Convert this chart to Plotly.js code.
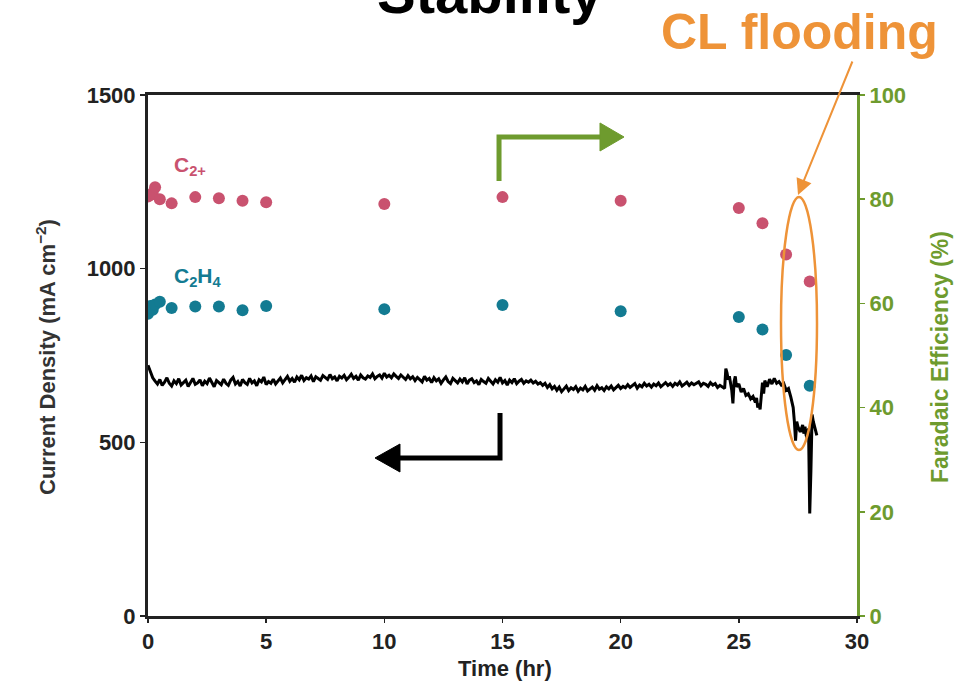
<!DOCTYPE html>
<html>
<head>
<meta charset="utf-8">
<script src="https://cdn.plot.ly/plotly-3.0.1.min.js"></script>
<style>html,body{margin:0;padding:0;background:#fff;}#chart{width:974px;height:683px;}</style>
</head>
<body>
<div id="chart"></div>
<script>
// ---- data ----
const fePointsTime = [0, 0.1, 0.2, 0.3, 0.5, 1, 2, 3, 4, 5, 10, 15, 20, 25, 26, 27, 28];
const feC2plus = [80.5, 80.8, 81.2, 82.3, 80.0, 79.2, 80.4, 80.2, 79.7, 79.4, 79.1, 80.4, 79.7, 78.3, 75.4, 69.4, 64.2];
const feC2H4 = [58.0, 59.5, 58.8, 59.8, 60.3, 59.1, 59.4, 59.4, 58.7, 59.5, 58.9, 59.7, 58.5, 57.4, 55.0, 50.1, 44.2];

const cdTime = [0, 0.05, 0.1, 0.2,
 0.3, 0.4, 0.5, 0.6, 0.7, 0.8, 0.9, 1.0, 1.1, 1.2,
 1.3, 1.4, 1.5, 1.6, 1.7, 1.8, 1.9, 2.0, 2.1, 2.2,
 2.3, 2.4, 2.5, 2.6, 2.7, 2.8, 2.9, 3.0, 3.1, 3.2,
 3.3, 3.4, 3.5, 3.6, 3.7, 3.8, 3.9, 4.0, 4.1, 4.2,
 4.3, 4.4, 4.5, 4.6, 4.7, 4.8, 4.9, 5.0, 5.1, 5.2,
 5.3, 5.4, 5.5, 5.6, 5.7, 5.8, 5.9, 6.0, 6.1, 6.2,
 6.3, 6.4, 6.5, 6.6, 6.7, 6.8, 6.9, 7.0, 7.1, 7.2,
 7.3, 7.4, 7.5, 7.6, 7.7, 7.8, 7.9, 8.0, 8.1, 8.2,
 8.3, 8.4, 8.5, 8.6, 8.7, 8.8, 8.9, 9.0, 9.1, 9.2,
 9.3, 9.4, 9.5, 9.6, 9.7, 9.8, 9.9, 10.0, 10.1, 10.2,
 10.3, 10.4, 10.5, 10.6, 10.7, 10.8, 10.9, 11.0, 11.1, 11.2,
 11.3, 11.4, 11.5, 11.6, 11.7, 11.8, 11.9, 12.0, 12.1, 12.2,
 12.3, 12.4, 12.5, 12.6, 12.7, 12.8, 12.9, 13.0, 13.1, 13.2,
 13.3, 13.4, 13.5, 13.6, 13.7, 13.8, 13.9, 14.0, 14.1, 14.2,
 14.3, 14.4, 14.5, 14.6, 14.7, 14.8, 14.9, 15.0, 15.1, 15.2,
 15.3, 15.4, 15.5, 15.6, 15.7, 15.8, 15.9, 16.0, 16.1, 16.2,
 16.3, 16.4, 16.5, 16.6, 16.7, 16.8, 16.9, 17.0, 17.1, 17.2,
 17.3, 17.4, 17.5, 17.6, 17.7, 17.8, 17.9, 18.0, 18.1, 18.2,
 18.3, 18.4, 18.5, 18.6, 18.7, 18.8, 18.9, 19.0, 19.1, 19.2,
 19.3, 19.4, 19.5, 19.6, 19.7, 19.8, 19.9, 20.0, 20.1, 20.2,
 20.3, 20.4, 20.5, 20.6, 20.7, 20.8, 20.9, 21.0, 21.1, 21.2,
 21.3, 21.4, 21.5, 21.6, 21.7, 21.8, 21.9, 22.0, 22.1, 22.2,
 22.3, 22.4, 22.5, 22.6, 22.7, 22.8, 22.9, 23.0, 23.1, 23.2,
 23.3, 23.4, 23.5, 23.6, 23.7, 23.8, 23.9, 24.0, 24.1, 24.2,
 24.3, 24.4, 24.45, 24.5, 24.55, 24.6, 24.7, 24.75, 24.8, 24.85, 24.9,
 25.0, 25.1, 25.2, 25.3, 25.4, 25.5, 25.6, 25.7, 25.75, 25.8, 25.85, 25.9, 25.95,
 26.0, 26.05, 26.1, 26.2, 26.3, 26.4, 26.5, 26.6, 26.7, 26.8, 26.9,
 27.0, 27.1, 27.2, 27.3, 27.35, 27.4, 27.45, 27.5, 27.6, 27.7, 27.75, 27.8, 27.85, 27.9, 27.95,
 28.0, 28.05, 28.1, 28.15, 28.2, 28.25, 28.3];
const cdValues = [722, 712, 700, 686,
 676, 668, 681, 664, 673, 686, 670, 662, 677, 669,
 683, 665, 672, 679, 661, 674, 684, 667, 671, 680,
 663, 676, 669, 685, 671, 660, 678, 673, 666, 682,
 670, 664, 679, 687, 668, 675, 662, 681, 672, 667,
 684, 671, 677, 663, 680, 674, 688, 666, 675, 670,
 682, 668, 677, 685, 671, 679, 690, 676, 684, 673,
 688, 680, 693, 678, 686, 682, 691, 675, 689, 684,
 679, 692, 686, 681, 695, 683, 688, 677, 690, 685,
 693, 680, 687, 696, 684, 690, 679, 694, 686, 682,
 691, 687, 697, 683, 690, 694, 685, 699, 688, 693,
 686, 697, 690, 684, 694, 688, 681, 692, 683, 689,
 678, 687, 681, 674, 690, 679, 684, 672, 686, 677,
 683, 670, 680, 688, 675, 669, 684, 677, 671, 682,
 674, 686, 668, 679, 683, 672, 677, 666, 681, 675,
 670, 684, 676, 668, 680, 673, 687, 671, 678, 665,
 679, 672, 683, 669, 676, 681, 670, 677, 673, 679,
 671, 676, 668, 672, 664, 670, 658, 666, 654, 661,
 650, 659, 646, 655, 662, 649, 657, 652, 660, 647,
 656, 651, 661, 648, 655, 659, 650, 663, 653, 657,
 649, 660, 654, 662, 651, 658, 664, 655, 661, 657,
 666, 658, 663, 669, 656, 665, 660, 670, 662, 667,
 659, 668, 663, 671, 660, 666, 672, 664, 669, 661,
 670, 665, 674, 662, 668, 673, 664, 671, 666, 669,
 674, 663, 670, 667, 661, 672, 665, 669, 658, 664,
 660, 655, 712, 700, 680, 690, 650, 612, 675, 690, 660,
 668, 645, 655, 635, 640, 625, 632, 615, 628, 600, 612, 595, 650,
 672, 640, 678, 660, 682, 668, 684, 670, 675, 665, 670,
 650, 655, 630, 600, 560, 505, 560, 545, 530, 550, 525, 545, 520, 510, 540,
 295, 420, 580, 560, 545, 530, 520];

const xTicks = [0, 5, 10, 15, 20, 25, 30];
const yLeftTicks = [0, 500, 1000, 1500];
const yRightTicks = [0, 20, 40, 60, 80, 100];

// ---- styling ----
const PINK = '#c9526f', TEAL = '#137b92', GREEN = '#6e9b2e', ORANGE = '#ee9338', DARK = '#222222';
const FONT = 'Arial, "Liberation Sans", sans-serif';
const L = 148, R = 857, T = 95, B = 616, W = 974, H = 683;
const px = x => (x - L) / (R - L);
const py = y => (B - y) / (B - T);

const traces = [
  {x: cdTime, y: cdValues, type: 'scatter', mode: 'lines', line: {color: '#000', width: 3}, yaxis: 'y', hoverinfo: 'skip'},
  {x: fePointsTime, y: feC2plus, type: 'scatter', mode: 'markers', marker: {color: PINK, size: 12}, yaxis: 'y2'},
  {x: fePointsTime, y: feC2H4, type: 'scatter', mode: 'markers', marker: {color: TEAL, size: 12}, yaxis: 'y2'}
];

function p(x, y) { return px(x).toFixed(4) + ',' + py(y).toFixed(4); }

const shapes = [
  {type: 'path', xref: 'paper', yref: 'paper', path: 'M' + p(499, 181) + ' L' + p(499, 137) + ' L' + p(603, 137), line: {color: GREEN, width: 5}},
  {type: 'path', xref: 'paper', yref: 'paper', path: 'M' + p(600, 123) + ' L' + p(624, 137) + ' L' + p(600, 151) + ' Z', fillcolor: GREEN, line: {color: GREEN, width: 1}},
  {type: 'path', xref: 'paper', yref: 'paper', path: 'M' + p(500, 413) + ' L' + p(500, 458) + ' L' + p(397, 458), line: {color: '#000', width: 5}},
  {type: 'path', xref: 'paper', yref: 'paper', path: 'M' + p(400, 444) + ' L' + p(375, 458) + ' L' + p(400, 472) + ' Z', fillcolor: '#000', line: {color: '#000', width: 1}},
  {type: 'circle', xref: 'paper', yref: 'paper', x0: px(781), x1: px(817), y0: py(450), y1: py(197), line: {color: ORANGE, width: 2.5}}
];

const annotations = [
  {xref: 'paper', yref: 'paper', x: px(490), y: py(-8), text: '<b>Stability</b>', showarrow: false, xanchor: 'center', yanchor: 'middle', font: {family: FONT, size: 58, color: '#000'}},
  {xref: 'paper', yref: 'paper', x: px(659), y: py(32), text: '<b>CL flooding</b>', showarrow: false, xanchor: 'left', yanchor: 'middle', font: {family: FONT, size: 50, color: ORANGE}},
  {xref: 'paper', yref: 'paper', x: px(798), y: py(195), text: '', showarrow: true, axref: 'pixel', ayref: 'pixel', ax: 55, ay: -135, arrowhead: 2, arrowsize: 1.6, arrowwidth: 2, arrowcolor: ORANGE},
  {xref: 'paper', yref: 'paper', x: px(172), y: py(166), text: '<b>C<sub>2+</sub></b>', showarrow: false, xanchor: 'left', yanchor: 'middle', font: {family: FONT, size: 21, color: PINK}},
  {xref: 'paper', yref: 'paper', x: px(172), y: py(277), text: '<b>C<sub>2</sub>H<sub>4</sub></b>', showarrow: false, xanchor: 'left', yanchor: 'middle', font: {family: FONT, size: 21, color: TEAL}},
  {xref: 'paper', yref: 'paper', x: px(46), y: py(357), text: '<b>Current Density (mA cm<sup>−2</sup>)</b>', textangle: -90, showarrow: false, xanchor: 'center', yanchor: 'middle', font: {family: FONT, size: 22, color: '#333'}},
  {xref: 'paper', yref: 'paper', x: px(940), y: py(357), text: '<b>Faradaic Efficiency (%)</b>', textangle: -90, showarrow: false, xanchor: 'center', yanchor: 'middle', font: {family: FONT, size: 23, color: GREEN}},
  {xref: 'paper', yref: 'paper', x: px(505), y: py(668), text: '<b>Time (hr)</b>', showarrow: false, xanchor: 'center', yanchor: 'middle', font: {family: FONT, size: 22, color: '#222'}}
];

const layout = {
  width: W, height: H,
  margin: {l: L, r: W - R, t: T, b: H - B, pad: 0},
  paper_bgcolor: '#fff', plot_bgcolor: '#fff',
  showlegend: false,
  xaxis: {range: [0, 30], tickvals: xTicks, ticktext: xTicks.map(String), showgrid: false, zeroline: false,
          showline: true, linecolor: '#222', linewidth: 3, mirror: true, ticks: 'outside', ticklen: 4, tickwidth: 1.5, tickcolor: '#222',
          tickfont: {family: FONT, size: 22, color: DARK, weight: 'bold'}, fixedrange: true},
  yaxis: {range: [0, 1500], tickvals: yLeftTicks, ticktext: yLeftTicks.map(String), showgrid: false, zeroline: false,
          showline: true, linecolor: '#222', linewidth: 3, ticks: 'outside', ticklen: 5, tickwidth: 1.5, tickcolor: '#222',
          tickfont: {family: FONT, size: 22, color: DARK, weight: 'bold'}, fixedrange: true},
  yaxis2: {range: [0, 100], tickvals: yRightTicks, ticktext: yRightTicks.map(String), overlaying: 'y', side: 'right', showgrid: false, zeroline: false,
          showline: true, linecolor: GREEN, linewidth: 3, ticks: 'outside', ticklen: 5, tickwidth: 1.5, tickcolor: GREEN,
          tickfont: {family: FONT, size: 22, color: GREEN, weight: 'bold'}, fixedrange: true},
  shapes: shapes,
  annotations: annotations
};

Plotly.newPlot('chart', traces, layout, {staticPlot: true, displayModeBar: false});
</script>
</body>
</html>
